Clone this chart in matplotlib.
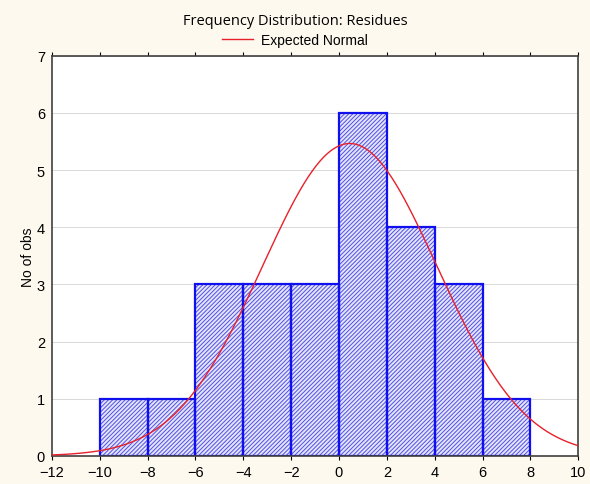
import numpy as np
from matplotlib import pyplot as plt

# histogram of residues
bin_edges = [-10, -8, -6, -4, -2, 0, 2, 4, 6, 8]
counts = [1, 1, 3, 3, 3, 6, 4, 3, 1]

# expected normal parameters
norm_mean = 0.45
norm_sd = 3.65

xticks = [-12, -10, -8, -6, -4, -2, 0, 2, 4, 6, 8, 10]
yticks = [0, 1, 2, 3, 4, 5, 6, 7]

plt.rcParams['font.family'] = ['Liberation Sans', 'DejaVu Sans']
plt.rcParams['hatch.linewidth'] = 0.7

fig = plt.figure(figsize=(5.9, 4.85), dpi=100, facecolor='#fdf9ef')
ax = fig.add_axes([0.088, 0.058, 0.892, 0.825])
ax.set_facecolor('white')

widths = np.diff(bin_edges)
# hatch fill, then the bright outline on top
ax.bar(bin_edges[:-1], counts, width=widths, align='edge',
       facecolor='#e4e4fa', edgecolor='#5050e6', hatch='////////', linewidth=0, zorder=2)
ax.bar(bin_edges[:-1], counts, width=widths, align='edge',
       facecolor='none', edgecolor='#1010ee', linewidth=1.6, zorder=2.5)

n = sum(counts)
bw = widths[0]
xs = np.linspace(-12, 10, 400)
ys = n * bw / (norm_sd * np.sqrt(2 * np.pi)) * np.exp(-(xs - norm_mean) ** 2 / (2 * norm_sd ** 2))
line, = ax.plot(xs, ys, color='#e8202a', linewidth=1.0, zorder=3, label='Expected Normal')

ax.set_xlim(-12, 10)
ax.set_ylim(0, 7)
ax.set_xticks(xticks)
ax.set_yticks(yticks)
ax.tick_params(labelsize=10.5, length=3, top=True, right=True, direction='out')
ax.tick_params(axis='y', length=0, pad=5)
ax.grid(axis='y', color='#d8d8d8', linewidth=0.7, zorder=0)
ax.set_axisbelow(True)
for s in ax.spines.values():
    s.set_color('#404040')
    s.set_linewidth(1.2)

ax.set_ylabel('No of obs', fontsize=10, labelpad=1)

fig.text(0.5, 0.955, 'Frequency Distribution: Residues', ha='center', va='center',
         fontsize=10.5, family='Open Sans')
fig.legend(handles=[line], loc='center', bbox_to_anchor=(0.5, 0.915), frameon=False,
           handlelength=2.2, handletextpad=0.6,
           prop={'family': 'Liberation Sans', 'size': 10})

fig.savefig('out.png', dpi=100, facecolor=fig.get_facecolor())
